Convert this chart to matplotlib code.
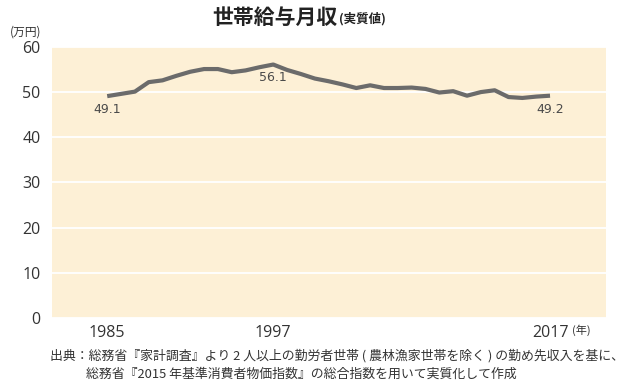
import matplotlib
matplotlib.use("Agg")
import matplotlib.pyplot as plt
import numpy as np

plt.rcParams['font.family'] = ['Noto Sans CJK JP', 'DejaVu Sans']

# 世帯給与月収（実質値）, 万円
years = list(range(1985, 2018))
income = [49.1, 49.6, 50.1, 52.2, 52.6, 53.6, 54.5, 55.1, 55.1, 54.4,
          54.8, 55.5, 56.1, 54.9, 54.0, 53.0, 52.4, 51.7, 50.9, 51.5,
          50.9, 50.9, 51.0, 50.7, 49.9, 50.2, 49.2, 50.0, 50.4, 48.9,
          48.7, 49.0, 49.2]
xticks = [1985, 1997, 2017]
yticks = [0, 10, 20, 30, 40, 50, 60]
labeled = {1985: "49.1", 1997: "56.1", 2017: "49.2"}

fig = plt.figure(figsize=(6.4, 3.91), dpi=100)
ax = fig.add_axes([0.081, 0.187, 0.866, 0.693])
ax.set_facecolor("#fdf0d6")

ax.plot(years, income, color="#6b6b6b", lw=3, solid_capstyle="butt", zorder=3)

for yr, txt in labeled.items():
    v = income[years.index(yr)]
    ax.annotate(txt, (yr, v), xytext=(0, -5), textcoords="offset points",
                ha="center", va="top", fontsize=9, color="#4a4a4a",
                family=["DejaVu Sans"])

ax.set_xlim(1981, 2021.05)
ax.set_ylim(0, 60)
ax.set_yticks(yticks)
ax.set_xticks(xticks)
ax.set_xticklabels([str(x) for x in xticks], family=["Open Sans"])
ax.set_yticklabels([str(y) for y in yticks], family=["Open Sans"])
ax.tick_params(length=0, labelsize=11.5, colors="#333333")
ax.tick_params(axis="x", pad=5)
ax.tick_params(axis="y", pad=8)
ax.grid(axis="y", color="white", lw=1.3)
ax.set_axisbelow(True)
for s in ax.spines.values():
    s.set_visible(False)

fig.text(0.43, 0.955, "世帯給与月収", ha="center", va="center",
         fontsize=15, fontweight="bold", color="#222222")
fig.text(0.53, 0.953, "(実質値)", ha="left", va="center",
         fontsize=9, fontweight="bold", color="#222222")
fig.text(0.015, 0.918, "(万円)", ha="left", va="center", fontsize=8.5, color="#333333")
fig.text(0.893, 0.155, "(年)", ha="left", va="center", fontsize=8, color="#333333")

fig.text(0.078, 0.09, "出典：総務省『家計調査』より 2 人以上の勤労者世帯 ( 農林漁家世帯を除く ) の勤め先収入を基に、",
         ha="left", va="center", fontsize=9.3, color="#333333")
fig.text(0.134, 0.042, "総務省『2015 年基準消費者物価指数』の総合指数を用いて実質化して作成",
         ha="left", va="center", fontsize=9.3, color="#333333")

fig.savefig("out.png", dpi=100)
